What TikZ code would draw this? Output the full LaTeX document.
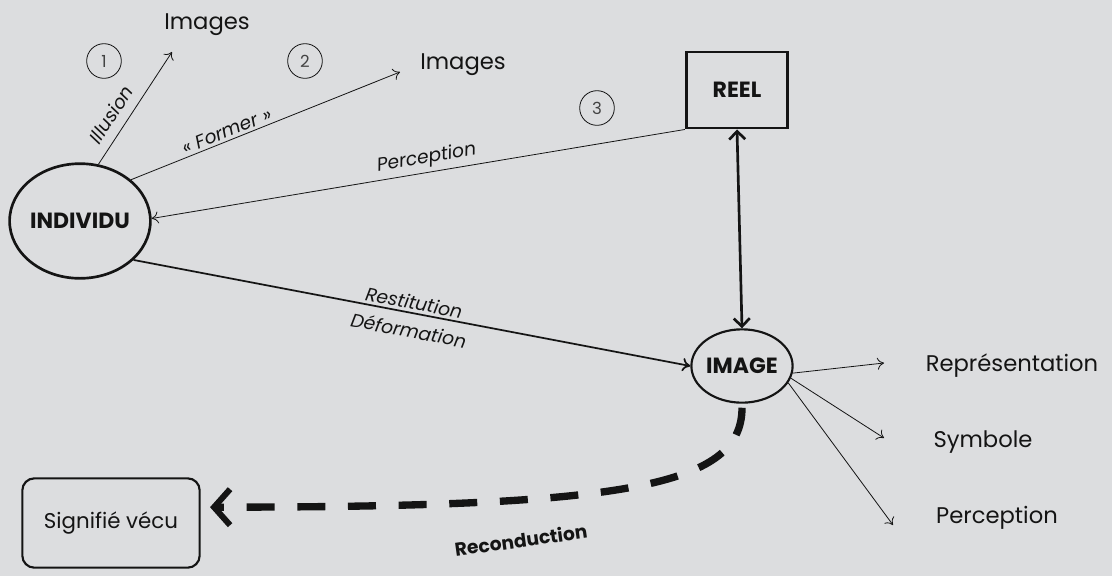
\documentclass[tikz,border=0pt]{standalone}
\usepackage{fontspec}
\setmainfont{Poppins}
\usetikzlibrary{arrows.meta,shapes.geometric}
\definecolor{bg}{HTML}{DCDDDF}
\definecolor{ink}{HTML}{141414}
\begin{document}
\begin{tikzpicture}[x=0.75pt,y=-0.75pt,
  thinarrow/.style={draw=ink, line width=0.6pt, -{To[length=5pt,width=9pt]}},
  midarrow/.style={draw=ink, line width=1.3pt, -{To[length=6pt,width=10pt]}},
  numcircle/.style={circle, draw=ink, line width=0.6pt, minimum size=26pt, inner sep=0pt, font=\fontsize{12.5}{14}\selectfont, text=ink!80},
  bigtext/.style={font=\fontsize{17}{20}\selectfont, text=ink},
  lbl/.style={font=\itshape\fontsize{14}{16}\selectfont, text=ink, inner sep=2pt},
  boldtext/.style={font=\bfseries\fontsize{16.5}{19}\selectfont, text=ink}
]
\fill[bg] (0,0) rectangle (1112,576);
\useasboundingbox (0,0) rectangle (1112,576);

% main nodes
\node[ellipse, draw=ink, line width=2pt, minimum width=100pt, minimum height=86pt, inner sep=0pt, boldtext] (ind) at (80,221) {INDIVIDU};
\node[rectangle, draw=ink, line width=2.2pt, minimum width=76pt, minimum height=57pt, boldtext] (reel) at (737,90) {REEL};
\node[ellipse, draw=ink, line width=1.6pt, minimum width=72pt, minimum height=55pt, inner sep=0pt, boldtext] (img) at (742,366) {IMAGE};
\node[rectangle, rounded corners=9pt, draw=ink, line width=1.6pt, minimum width=133pt, minimum height=67pt, font=\fontsize{16}{19}\selectfont, text=ink] (sig) at (111,523) {Signifié vécu};

% numbers
\node[numcircle] (n1) at (104,61) {1};
\node[numcircle] (n2) at (305,61) {2};
\node[numcircle] (n3) at (597,108) {3};

% texts
\node[bigtext] (im1) at (207,25) {Images};
\node[bigtext] (im2) at (463,65) {Images};
\node[bigtext] (rep) at (1012,366) {Représentation};
\node[bigtext] (sym) at (983,442) {Symbole};
\node[bigtext] (per) at (997,518) {Perception};

% end coordinates
\coordinate (e1) at (172,52);
\coordinate (e2) at (400,72);
\coordinate (e3) at (884,363);
\coordinate (e4) at (884,438);
\coordinate (e5) at (893,525);

% connectors
\draw[thinarrow] (ind.72) -- node[lbl, sloped, above=5pt, pos=0.36] {Illusion} (e1);
\draw[thinarrow] (ind.39) -- node[lbl, sloped, above, pos=0.37] {« Former »} (e2);
\draw[thinarrow] (reel.south west) -- node[lbl, sloped, above=1pt, pos=0.48] {Perception} (ind.2);
\draw[midarrow] (ind.-36) -- node[lbl, sloped, above, pos=0.5] {Restitution} node[lbl, sloped, below=5pt, pos=0.5] {Déformation} (img.west);
\draw[draw=ink, line width=2pt, {Straight Barb[length=6pt,width=12pt]}-{Straight Barb[length=6pt,width=12pt]}] (reel.south) -- (img.north);
\draw[thinarrow] (img.-8) -- (e3);
\draw[thinarrow] (img.-14) -- (e4);
\draw[thinarrow] (img.-20) -- (e5);

% reconduction
\draw[draw=ink, line width=5.5pt, dash pattern=on 21pt off 17pt, shorten <=3pt, shorten >=7pt,
      -{Straight Barb[length=12pt,width=27pt,line width=4.5pt]}]
  (img.south) .. controls (742,488) and (620,507) .. (sig.10);
\node[font=\bfseries\fontsize{14}{16}\selectfont, text=ink, rotate=8] (rec) at (521,540) {Reconduction};
\end{tikzpicture}
\end{document}
